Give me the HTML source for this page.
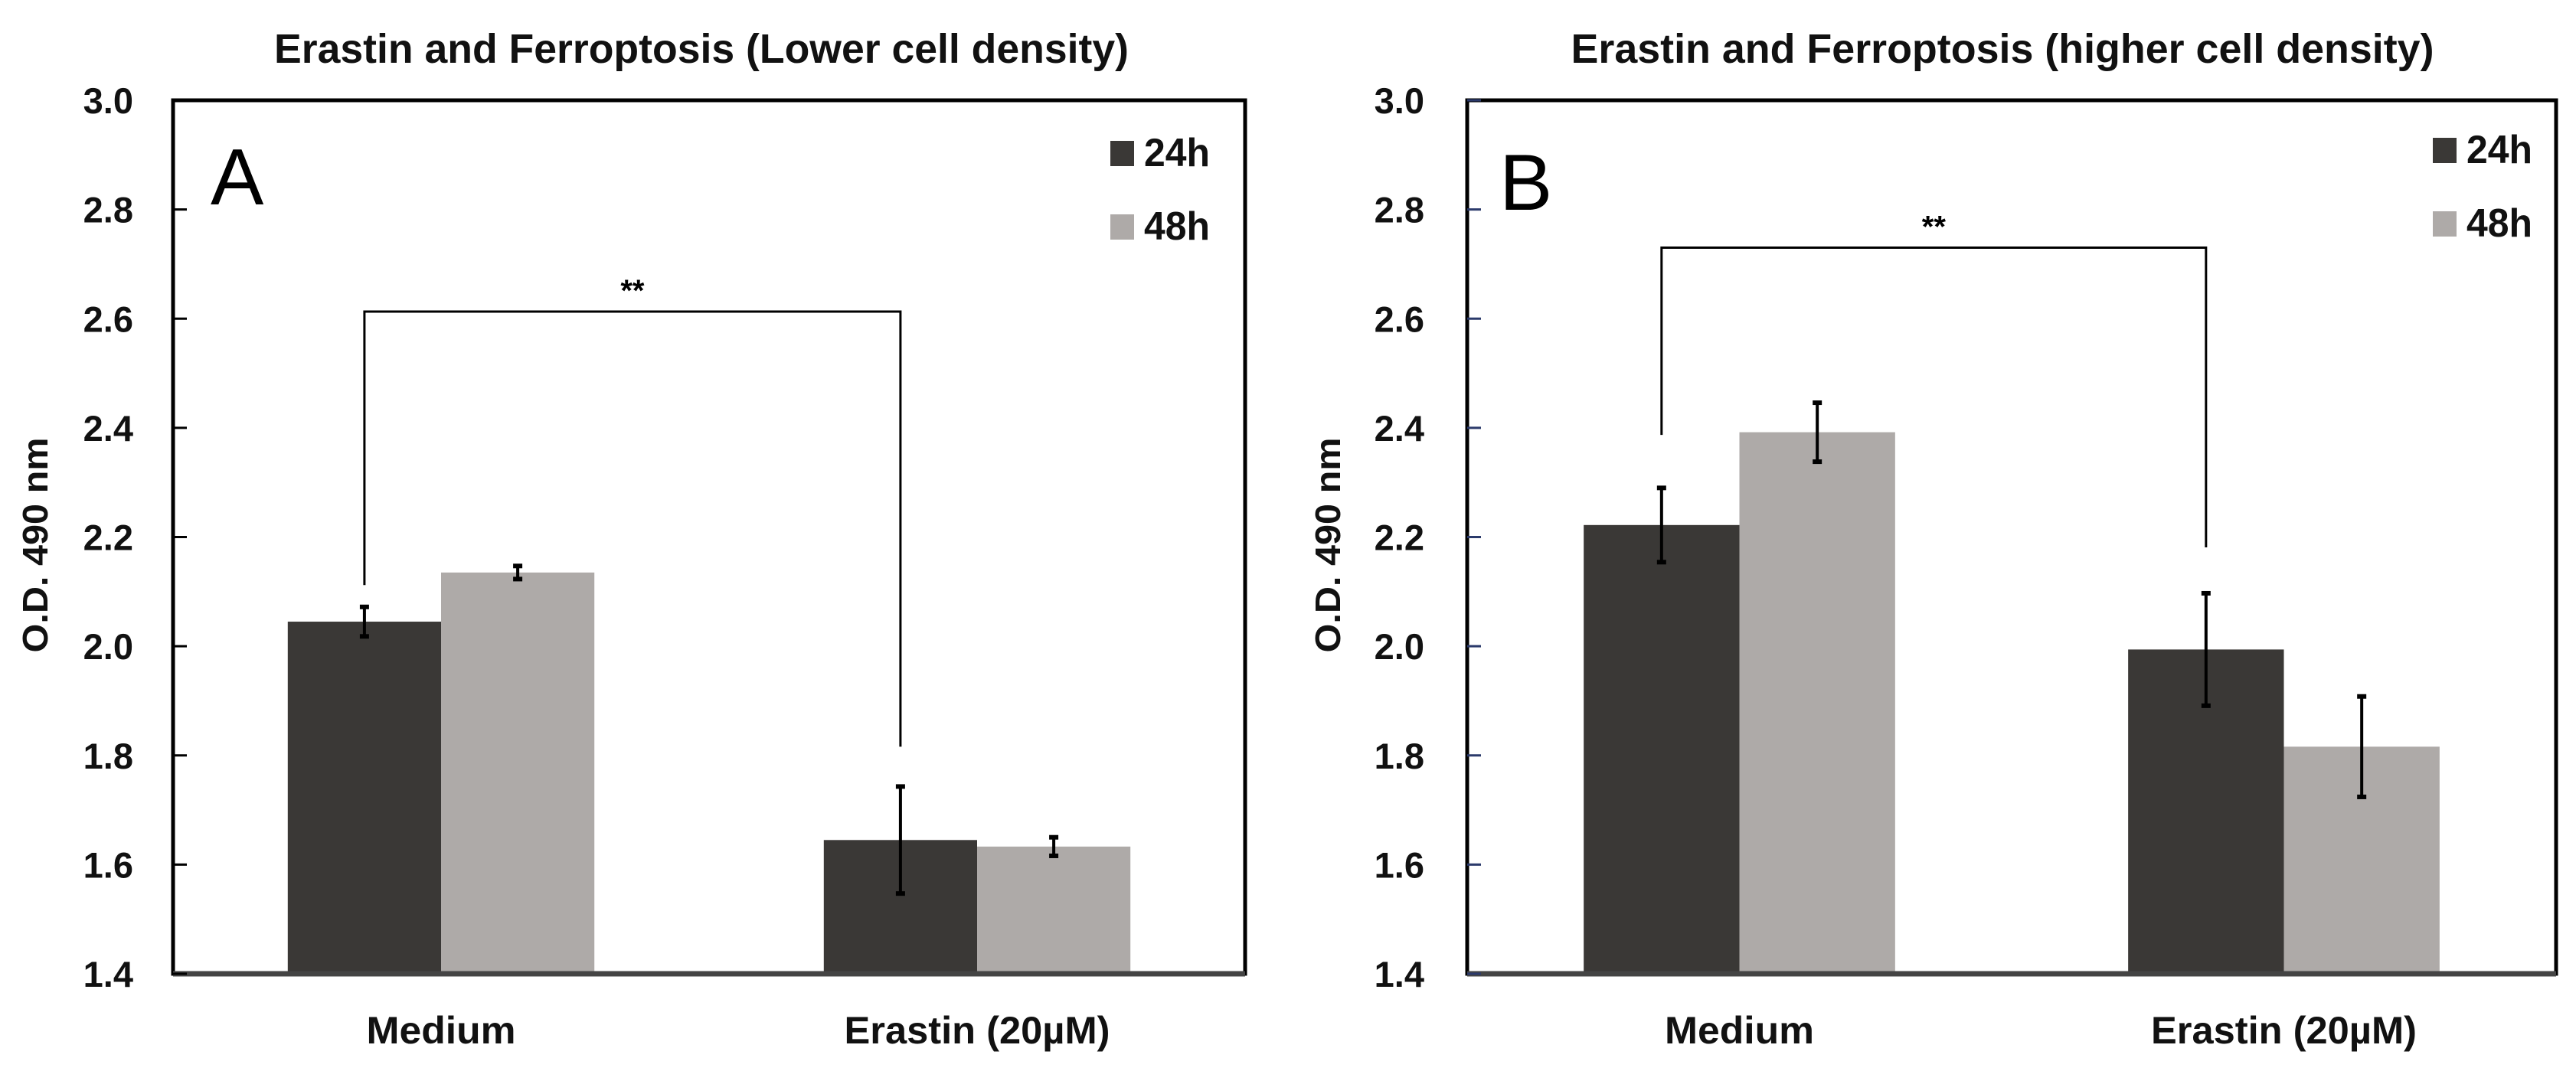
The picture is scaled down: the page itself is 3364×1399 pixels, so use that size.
<!DOCTYPE html>
<html><head><meta charset="utf-8"><style>
html,body{margin:0;padding:0;background:#fff;}
svg{display:block;font-family:"Liberation Sans",sans-serif;}
</style></head><body>
<svg id="chart" width="3364" height="1399" viewBox="0 0 3364 1399" xmlns="http://www.w3.org/2000/svg"></svg>
<script>
const categories = ["Medium", "Erastin (20µM)"];
const seriesNames = ["24h", "48h"];
const tickLabels = ["1.4","1.6","1.8","2.0","2.2","2.4","2.6","2.8","3.0"];
const aVals24 = [2.045, 1.645];
const aVals48 = [2.135, 1.633];
const aErr24 = [0.027, 0.098];
const aErr48 = [0.012, 0.017];
const bVals24 = [2.222, 1.994];
const bVals48 = [2.392, 1.816];
const bErr24 = [0.068, 0.103];
const bErr48 = [0.054, 0.092];
const aBracket = [2.613, 2.112, 1.816];
const bBracket = [2.73, 2.387, 2.181];

const NS = "http://www.w3.org/2000/svg";
const svg = document.getElementById("chart");
const colors = ["#3a3836", "#aeaaa8"];
function mk(tag, attrs, parent){const e=document.createElementNS(NS,tag);for(const k in attrs)e.setAttribute(k,attrs[k]);(parent||svg).appendChild(e);return e;}

function panel(cfg){
  const g = mk("g",{});
  
  
  const L=cfg.left, R=cfg.right, T=131, B=1272, ymin=1.4, ymax=3.0;
  const y = v => B - (v - ymin) / (ymax - ymin) * (B - T);
  const W = R - L, catW = W / categories.length, barW = W * 0.143;
  const x = (ci, si) => L + catW * ci + catW / 2 - barW + si * barW;
  // title
  const t = mk("text",{x:cfg.titleX,y:82,"text-anchor":"middle","font-size":54,"font-weight":"bold",fill:"#111",textLength:cfg.titleW,lengthAdjust:"spacingAndGlyphs"},g);
  t.textContent = cfg.title;
  
  
  // bars
  const vals=[cfg.v24,cfg.v48], errs=[cfg.e24,cfg.e48];
  for(let si=0;si<2;si++){
    for(let ci=0;ci<categories.length;ci++){
      const r = mk("rect",{x:x(ci,si),y:y(vals[si][ci]),width:barW,height:B-y(vals[si][ci]),fill:colors[si]},g);
      
      
    }
  }
  // error bars
  for(let si=0;si<2;si++){
    for(let ci=0;ci<categories.length;ci++){
      const cx = x(ci,si)+barW/2, v=vals[si][ci], e=errs[si][ci];
      const eg = mk("g",{stroke:"#000","stroke-width":4},g);
      
      
      mk("line",{x1:cx,x2:cx,y1:y(v+e),y2:y(v-e)},eg);
      mk("line",{x1:cx-6,x2:cx+6,y1:y(v+e),y2:y(v+e),"stroke-width":6},eg);
      mk("line",{x1:cx-6,x2:cx+6,y1:y(v-e),y2:y(v-e),"stroke-width":6},eg);
    }
  }
  // bracket
  const bx1 = x(0,0)+barW/2, bx2 = x(1,0)+barW/2, br = cfg.br;
  const bp = mk("polyline",{points:`${bx1},${y(br[1])} ${bx1},${y(br[0])} ${bx2},${y(br[0])} ${bx2},${y(br[2])}`,fill:"none",stroke:"#000","stroke-width":3},g);
  
  
  const st = mk("text",{x:(bx1+bx2)/2,y:y(br[0])-14,"text-anchor":"middle","font-size":40,"font-weight":"bold"},g);
  st.textContent="**";
  
  
  // axes box
  const box = mk("rect",{x:L,y:T,width:W,height:B-T,fill:"none",stroke:"#000","stroke-width":5},g);
  
  
  mk("line",{x1:L,x2:R,y1:B,y2:B,stroke:"#444","stroke-width":7},g);
  // ticks
  for(let i=0;i<tickLabels.length;i++){
    const v=parseFloat(tickLabels[i]);
    mk("line",{x1:L,x2:L+18,y1:y(v),y2:y(v),stroke:cfg.axisCol,"stroke-width":3},g);
    const tl = mk("text",{x:cfg.tickX,y:y(v)+17,"text-anchor":"end","font-size":47,"font-weight":"bold",fill:"#111"},g);
    tl.textContent = tickLabels[i];
    
    
  }
  // y title
  const yt = mk("text",{x:0,y:0,"text-anchor":"middle","font-size":46,"font-weight":"bold",fill:"#111",transform:`translate(${cfg.ytX},712) rotate(-90)`,textLength:281,lengthAdjust:"spacingAndGlyphs"},g);
  yt.textContent="O.D. 490 nm";
  
  
  // x labels
  for(let ci=0;ci<categories.length;ci++){
    const xl = mk("text",{x:L+catW*ci+catW/2,y:1363,"text-anchor":"middle","font-size":50,"font-weight":"bold",fill:"#111",textLength:ci?347:195,lengthAdjust:"spacingAndGlyphs"},g);
    xl.textContent = categories[ci];
    
    
  }
  // panel letter
  const pl = mk("text",{x:cfg.letterX,y:cfg.letterY,"font-size":104,fill:"#000"},g);
  pl.textContent = cfg.letter;
  
  
  // legend
  for(let si=0;si<2;si++){
    const ly = cfg.legY + si*96;
    const lg = mk("g",{},g);
    
    
    mk("rect",{x:cfg.legX,y:ly,width:31,height:33,fill:colors[si]},lg);
    const lt = mk("text",{x:cfg.legX+44,y:ly+33,"font-size":52,"font-weight":"bold",fill:"#111",textLength:86,lengthAdjust:"spacingAndGlyphs"},lg);
    lt.textContent = seriesNames[si];
  }
}

panel({id:"panel-a",left:226,right:1626,title:"Erastin and Ferroptosis (Lower cell density)",titleX:916,titleW:1116,
  v24:aVals24,v48:aVals48,e24:aErr24,e48:aErr48,br:aBracket,tickX:174,ytX:62,letter:"A",letterX:275,letterY:267,legX:1450,legY:184,axisCol:"#000"});
panel({id:"panel-b",left:1916,right:3338,title:"Erastin and Ferroptosis (higher cell density)",titleX:2615,titleW:1127,
  v24:bVals24,v48:bVals48,e24:bErr24,e48:bErr48,br:bBracket,tickX:1860,ytX:1750,letter:"B",letterX:1958,letterY:274,legX:3177,legY:180,axisCol:"#2b3a6b"});
</script>
</body></html>
